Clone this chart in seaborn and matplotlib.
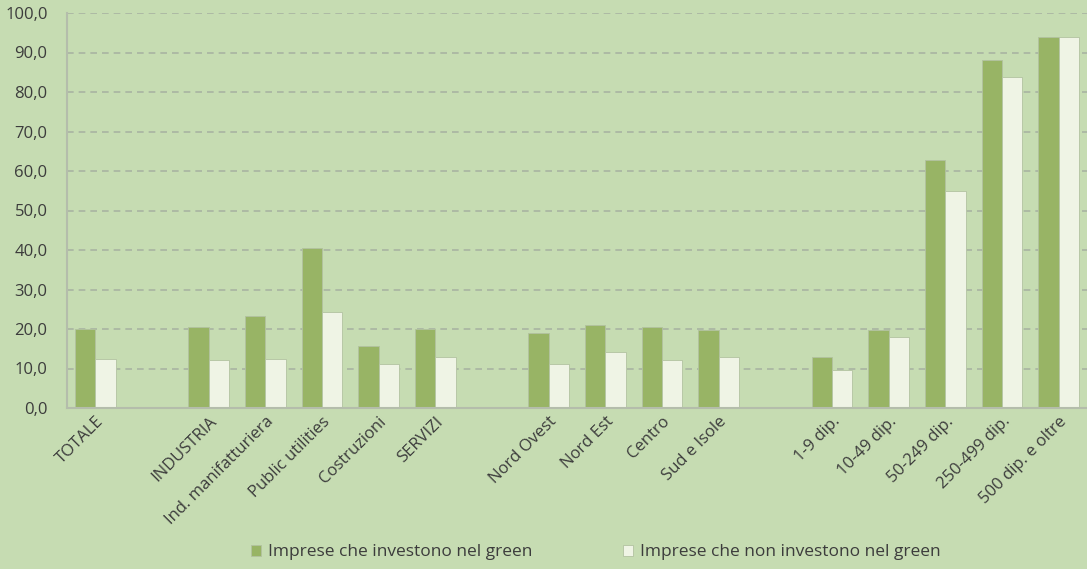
import matplotlib
matplotlib.use("Agg")
import matplotlib.pyplot as plt
import matplotlib.ticker as mticker
import pandas as pd
import seaborn as sns

sns.set_theme(style="white")
plt.rcParams["font.family"] = ["Open Sans", "DejaVu Sans"]

BG = "#C6DCB2"
GREEN = "#98B465"
LIGHT = "#EFF4E5"
TEXT = "#3C3C3C"

# blank strings are the gaps between groups
CATEGORIES = ["TOTALE", "", "INDUSTRIA", "Ind. manifatturiera", "Public utilities",
              "Costruzioni", "SERVIZI", " ", "Nord Ovest", "Nord Est", "Centro",
              "Sud e Isole", "  ", "1-9 dip.", "10-49 dip.", "50-249 dip.",
              "250-499 dip.", "500 dip. e oltre"]
LABELS = ["TOTALE", "INDUSTRIA", "Ind. manifatturiera", "Public utilities",
          "Costruzioni", "SERVIZI", "Nord Ovest", "Nord Est", "Centro",
          "Sud e Isole", "1-9 dip.", "10-49 dip.", "50-249 dip.",
          "250-499 dip.", "500 dip. e oltre"]
GREEN_VALUES = [20.0, 20.4, 23.3, 40.6, 15.8, 19.9, 18.9, 20.9, 20.6, 19.8,
                13.0, 19.8, 62.9, 88.0, 93.8]
OTHER_VALUES = [12.5, 12.1, 12.4, 24.4, 11.2, 12.8, 11.2, 14.1, 12.2, 12.8,
                9.7, 18.1, 54.9, 83.7, 93.8]
SERIES = ["Imprese che investono nel green", "Imprese che non investono nel green"]

df = pd.DataFrame({
    "categoria": LABELS * 2,
    "valore": GREEN_VALUES + OTHER_VALUES,
    "serie": [SERIES[0]] * len(LABELS) + [SERIES[1]] * len(LABELS),
})

fig = plt.figure(figsize=(10.87, 5.69), dpi=100, facecolor=BG)
ax = fig.add_axes([67 / 1087, 1 - 408 / 569, 1 - 67 / 1087, (408 - 13) / 569])
ax.set_facecolor(BG)

sns.barplot(data=df, x="categoria", y="valore", hue="serie", order=CATEGORIES,
            hue_order=SERIES, palette=[GREEN, LIGHT], saturation=1, width=0.72, ax=ax,
            edgecolor="#B2C2A0", linewidth=0.6, legend=True)

ax.set_ylim(0, 100)
ax.set_xlim(-0.5, -0.5 + 1020 / 57)
ax.yaxis.set_major_locator(mticker.MultipleLocator(10))
ax.yaxis.set_major_formatter(mticker.FuncFormatter(lambda v, _: f"{v:.1f}".replace(".", ",")))
ax.grid(axis="y", linestyle=(0, (4, 3)), color="#A9B4A2", linewidth=1.2)
ax.set_axisbelow(True)

for side in ["top", "right"]:
    ax.spines[side].set_visible(False)
for side in ["left", "bottom"]:
    ax.spines[side].set_color("#B4BDAB")
    ax.spines[side].set_linewidth(1.5)

ax.tick_params(axis="y", length=4, color="#B4BDAB", labelsize=12, labelcolor=TEXT, pad=10)
ax.tick_params(axis="x", which="major", length=0, labelsize=12, labelcolor=TEXT, pad=4)
ax.set_xticks([i + 0.5 for i in range(-1, len(CATEGORIES))], minor=True)
ax.tick_params(axis="x", which="minor", length=4, color="#B4BDAB")
for lab in ax.get_xticklabels():
    lab.set_rotation(45)
    lab.set_ha("right")
    lab.set_rotation_mode("anchor")

ax.set_xlabel("")
ax.set_ylabel("")

handles, labels = ax.get_legend_handles_labels()
ax.get_legend().remove()
fig.legend(handles, labels, loc="lower center", bbox_to_anchor=(0.548, -0.012), ncol=2,
           frameon=False, fontsize=12.5, labelcolor=TEXT, handlelength=0.6,
           handleheight=0.6, handletextpad=0.4, columnspacing=5.2)

fig.savefig("out.png", dpi=100, facecolor=BG)
